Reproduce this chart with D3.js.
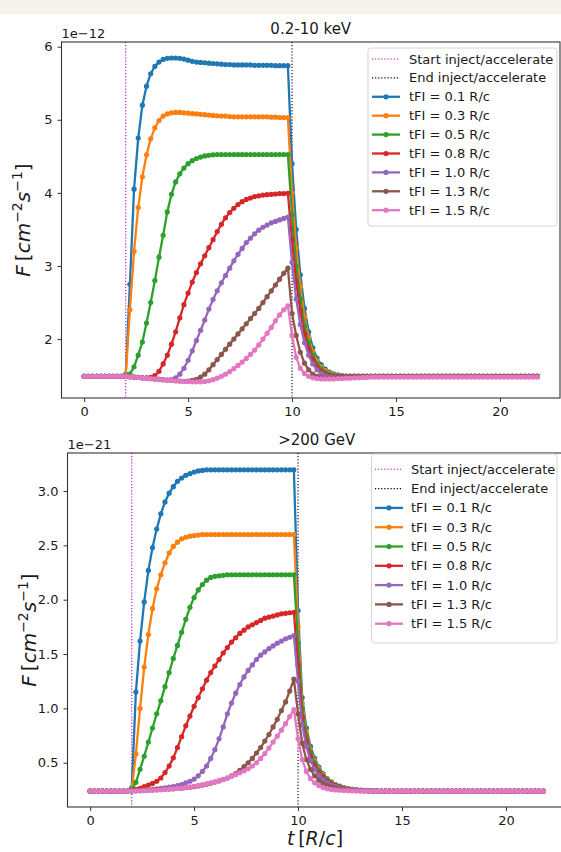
<!DOCTYPE html>
<html><head><meta charset="utf-8">
<script src="https://cdn.jsdelivr.net/npm/d3@7"></script>
<style>
html,body{margin:0;padding:0;background:#fff;}
svg{display:block;font-family:"DejaVu Sans",sans-serif;}
</style></head>
<body><svg id="c" width="561" height="852"></svg>
<script>
// ---------- DATA ----------
const times = [0,0.2,0.4,0.6,0.8,1,1.2,1.4,1.6,1.8,
2,2.2,2.4,2.6,2.8,3,3.2,3.4,3.6,3.8,
4,4.2,4.4,4.6,4.8,5,5.2,5.4,5.6,5.8,
6,6.2,6.4,6.6,6.8,7,7.2,7.4,7.6,7.8,
8,8.2,8.4,8.6,8.8,9,9.2,9.4,9.6,9.8,
10,10.2,10.4,10.6,10.8,11,11.2,11.4,11.6,11.8,
12,12.2,12.4,12.6,12.8,13,13.2,13.4,13.6,13.8,
14,14.2,14.4,14.6,14.8,15,15.2,15.4,15.6,15.8,
16,16.2,16.4,16.6,16.8,17,17.2,17.4,17.6,17.8,
18,18.2,18.4,18.6,18.8,19,19.2,19.4,19.6,19.8,
20,20.2,20.4,20.6,20.8,21,21.2,21.4,21.6,21.8];

const seriesNames = ["tFI = 0.1 R/c","tFI = 0.3 R/c","tFI = 0.5 R/c","tFI = 0.8 R/c","tFI = 1.0 R/c","tFI = 1.3 R/c","tFI = 1.5 R/c"];
const seriesColors = ["#1f77b4","#ff7f0e","#2ca02c","#d62728","#9467bd","#8c564b","#e377c2"];
const injectStart = 2;
const injectEnd = 10;

// 0.2-10 keV, units of 1e-12
const keV_01 = [1.49,1.49,1.49,1.49,1.49,1.49,1.49,1.49,1.49,1.49,
1.52,2.75,4.05,4.75,5.20,5.46,5.63,5.73,5.79,5.825,
5.84,5.845,5.845,5.84,5.83,5.815,5.80,5.79,5.785,5.78,
5.775,5.77,5.765,5.76,5.755,5.755,5.75,5.75,5.75,5.75,
5.75,5.745,5.745,5.745,5.745,5.745,5.74,5.74,5.74,5.74,
4.40,3.50,2.88,2.42,2.10,1.88,1.74,1.65,1.59,1.55,
1.525,1.51,1.50,1.495,1.49,1.49,1.49,1.49,1.49,1.49,
1.49,1.49,1.49,1.49,1.49,1.49,1.49,1.49,1.49,1.49,
1.49,1.49,1.49,1.49,1.49,1.49,1.49,1.49,1.49,1.49,
1.49,1.49,1.49,1.49,1.49,1.49,1.49,1.49,1.49,1.49,
1.49,1.49,1.49,1.49,1.49,1.49,1.49,1.49,1.49,1.49];
const keV_03 = [1.49,1.49,1.49,1.49,1.49,1.49,1.49,1.49,1.49,1.49,
1.50,2.40,3.20,3.80,4.22,4.52,4.74,4.89,4.99,5.05,
5.08,5.095,5.10,5.10,5.095,5.09,5.085,5.08,5.075,5.07,
5.065,5.06,5.055,5.05,5.05,5.045,5.04,5.04,5.04,5.04,
5.04,5.04,5.04,5.04,5.04,5.035,5.035,5.03,5.03,5.03,
4.00,3.25,2.72,2.30,2.02,1.83,1.70,1.62,1.57,1.535,
1.515,1.50,1.495,1.49,1.49,1.49,1.49,1.49,1.49,1.49,
1.49,1.49,1.49,1.49,1.49,1.49,1.49,1.49,1.49,1.49,
1.49,1.49,1.49,1.49,1.49,1.49,1.49,1.49,1.49,1.49,
1.49,1.49,1.49,1.49,1.49,1.49,1.49,1.49,1.49,1.49,
1.49,1.49,1.49,1.49,1.49,1.49,1.49,1.49,1.49,1.49];
const keV_05 = [1.49,1.49,1.49,1.49,1.49,1.49,1.49,1.49,1.49,1.49,
1.49,1.52,1.62,1.78,1.96,2.22,2.50,2.80,3.12,3.42,
3.74,3.98,4.15,4.26,4.34,4.40,4.44,4.47,4.49,4.505,
4.515,4.52,4.525,4.525,4.525,4.525,4.525,4.525,4.525,4.525,
4.525,4.525,4.525,4.525,4.525,4.525,4.525,4.525,4.525,4.525,
3.70,3.00,2.55,2.18,1.95,1.78,1.66,1.59,1.545,1.52,
1.505,1.495,1.49,1.49,1.49,1.49,1.49,1.49,1.49,1.49,
1.49,1.49,1.49,1.49,1.49,1.49,1.49,1.49,1.49,1.49,
1.49,1.49,1.49,1.49,1.49,1.49,1.49,1.49,1.49,1.49,
1.49,1.49,1.49,1.49,1.49,1.49,1.49,1.49,1.49,1.49,
1.49,1.49,1.49,1.49,1.49,1.49,1.49,1.49,1.49,1.49];
const keV_08 = [1.49,1.49,1.49,1.49,1.49,1.49,1.49,1.49,1.49,1.49,
1.49,1.485,1.48,1.475,1.47,1.47,1.475,1.50,1.56,1.66,
1.78,1.93,2.10,2.29,2.47,2.63,2.78,2.91,3.03,3.14,
3.25,3.36,3.47,3.57,3.66,3.73,3.79,3.84,3.88,3.91,
3.93,3.95,3.96,3.97,3.975,3.98,3.985,3.99,3.99,3.995,
3.35,2.78,2.38,2.07,1.86,1.72,1.62,1.56,1.52,1.50,
1.49,1.49,1.49,1.49,1.49,1.49,1.49,1.49,1.49,1.49,
1.49,1.49,1.49,1.49,1.49,1.49,1.49,1.49,1.49,1.49,
1.49,1.49,1.49,1.49,1.49,1.49,1.49,1.49,1.49,1.49,
1.49,1.49,1.49,1.49,1.49,1.49,1.49,1.49,1.49,1.49,
1.49,1.49,1.49,1.49,1.49,1.49,1.49,1.49,1.49,1.49];
const keV_10 = [1.49,1.49,1.49,1.49,1.49,1.49,1.49,1.49,1.49,1.49,
1.49,1.485,1.48,1.475,1.47,1.465,1.46,1.455,1.45,1.445,
1.44,1.445,1.47,1.52,1.60,1.71,1.84,1.98,2.12,2.26,
2.41,2.54,2.66,2.77,2.87,2.97,3.07,3.16,3.24,3.32,
3.38,3.44,3.49,3.53,3.56,3.59,3.61,3.63,3.65,3.67,
3.05,2.55,2.20,1.95,1.78,1.66,1.58,1.53,1.50,1.485,
1.48,1.48,1.485,1.49,1.49,1.49,1.49,1.49,1.49,1.49,
1.49,1.49,1.49,1.49,1.49,1.49,1.49,1.49,1.49,1.49,
1.49,1.49,1.49,1.49,1.49,1.49,1.49,1.49,1.49,1.49,
1.49,1.49,1.49,1.49,1.49,1.49,1.49,1.49,1.49,1.49,
1.49,1.49,1.49,1.49,1.49,1.49,1.49,1.49,1.49,1.49];
const keV_13 = [1.49,1.49,1.49,1.49,1.49,1.49,1.49,1.49,1.49,1.49,
1.49,1.485,1.48,1.475,1.47,1.465,1.46,1.455,1.45,1.445,
1.44,1.435,1.43,1.425,1.42,1.425,1.435,1.45,1.48,1.52,
1.58,1.65,1.72,1.79,1.86,1.93,2.00,2.07,2.14,2.21,
2.28,2.35,2.42,2.50,2.58,2.66,2.74,2.82,2.90,2.97,
2.35,2.05,1.82,1.67,1.58,1.52,1.49,1.47,1.465,1.465,
1.47,1.475,1.48,1.485,1.49,1.49,1.49,1.49,1.49,1.49,
1.49,1.49,1.49,1.49,1.49,1.49,1.49,1.49,1.49,1.49,
1.49,1.49,1.49,1.49,1.49,1.49,1.49,1.49,1.49,1.49,
1.49,1.49,1.49,1.49,1.49,1.49,1.49,1.49,1.49,1.49,
1.49,1.49,1.49,1.49,1.49,1.49,1.49,1.49,1.49,1.49];
const keV_15 = [1.49,1.49,1.49,1.49,1.49,1.49,1.49,1.49,1.49,1.49,
1.49,1.485,1.48,1.475,1.47,1.465,1.46,1.455,1.45,1.445,
1.44,1.435,1.43,1.425,1.42,1.42,1.415,1.415,1.415,1.42,
1.43,1.445,1.465,1.49,1.52,1.555,1.595,1.64,1.685,1.735,
1.79,1.85,1.92,2.00,2.08,2.16,2.25,2.33,2.40,2.455,
2.05,1.75,1.60,1.53,1.49,1.47,1.46,1.455,1.455,1.455,
1.455,1.46,1.46,1.465,1.465,1.47,1.47,1.475,1.475,1.48,
1.48,1.48,1.48,1.48,1.48,1.48,1.48,1.48,1.48,1.48,
1.48,1.48,1.48,1.48,1.48,1.48,1.48,1.48,1.48,1.48,
1.48,1.48,1.48,1.48,1.48,1.48,1.48,1.48,1.48,1.48,
1.48,1.48,1.48,1.48,1.48,1.48,1.48,1.48,1.48,1.48];

// >200 GeV, units of 1e-21
const GeV_01 = [0.24,0.24,0.24,0.24,0.24,0.24,0.24,0.24,0.24,0.24,
0.27,1.15,1.62,1.98,2.27,2.48,2.65,2.79,2.90,2.98,
3.04,3.09,3.12,3.145,3.16,3.175,3.185,3.19,3.195,3.195,
3.195,3.195,3.195,3.195,3.195,3.195,3.195,3.195,3.195,3.195,
3.195,3.195,3.195,3.195,3.195,3.195,3.195,3.195,3.195,3.195,
1.90,1.10,0.82,0.65,0.54,0.46,0.40,0.355,0.325,0.30,
0.285,0.272,0.263,0.256,0.25,0.247,0.245,0.243,0.242,0.241,
0.24,0.24,0.24,0.24,0.24,0.24,0.24,0.24,0.24,0.24,
0.24,0.24,0.24,0.24,0.24,0.24,0.24,0.24,0.24,0.24,
0.24,0.24,0.24,0.24,0.24,0.24,0.24,0.24,0.24,0.24,
0.24,0.24,0.24,0.24,0.24,0.24,0.24,0.24,0.24,0.24];
const GeV_03 = [0.24,0.24,0.24,0.24,0.24,0.24,0.24,0.24,0.24,0.24,
0.25,0.58,1.00,1.38,1.68,1.92,2.10,2.23,2.34,2.43,
2.49,2.53,2.56,2.575,2.585,2.59,2.595,2.60,2.60,2.60,
2.60,2.60,2.60,2.60,2.60,2.60,2.60,2.60,2.60,2.60,
2.60,2.60,2.60,2.60,2.60,2.60,2.60,2.60,2.60,2.60,
1.75,1.05,0.78,0.62,0.52,0.445,0.39,0.35,0.32,0.298,
0.282,0.27,0.262,0.255,0.25,0.247,0.245,0.243,0.242,0.241,
0.24,0.24,0.24,0.24,0.24,0.24,0.24,0.24,0.24,0.24,
0.24,0.24,0.24,0.24,0.24,0.24,0.24,0.24,0.24,0.24,
0.24,0.24,0.24,0.24,0.24,0.24,0.24,0.24,0.24,0.24,
0.24,0.24,0.24,0.24,0.24,0.24,0.24,0.24,0.24,0.24];
const GeV_05 = [0.24,0.24,0.24,0.24,0.24,0.24,0.24,0.24,0.24,0.24,
0.25,0.32,0.44,0.56,0.69,0.82,0.95,1.07,1.20,1.33,
1.46,1.58,1.70,1.82,1.93,2.02,2.09,2.14,2.18,2.205,
2.215,2.22,2.225,2.23,2.23,2.23,2.23,2.23,2.23,2.23,
2.23,2.23,2.23,2.23,2.23,2.23,2.23,2.23,2.23,2.23,
1.60,1.00,0.75,0.60,0.50,0.43,0.38,0.345,0.315,0.295,
0.28,0.268,0.26,0.254,0.25,0.247,0.245,0.243,0.242,0.241,
0.24,0.24,0.24,0.24,0.24,0.24,0.24,0.24,0.24,0.24,
0.24,0.24,0.24,0.24,0.24,0.24,0.24,0.24,0.24,0.24,
0.24,0.24,0.24,0.24,0.24,0.24,0.24,0.24,0.24,0.24,
0.24,0.24,0.24,0.24,0.24,0.24,0.24,0.24,0.24,0.24];
const GeV_08 = [0.24,0.24,0.24,0.24,0.24,0.24,0.24,0.24,0.24,0.24,
0.245,0.255,0.265,0.28,0.295,0.31,0.33,0.36,0.41,0.47,
0.545,0.64,0.74,0.84,0.93,1.02,1.10,1.18,1.26,1.33,
1.39,1.45,1.51,1.56,1.61,1.65,1.69,1.72,1.75,1.77,
1.79,1.81,1.83,1.84,1.85,1.86,1.87,1.875,1.88,1.885,
1.40,0.92,0.70,0.56,0.47,0.41,0.365,0.33,0.305,0.287,
0.274,0.264,0.257,0.252,0.248,0.246,0.244,0.242,0.241,0.24,
0.24,0.24,0.24,0.24,0.24,0.24,0.24,0.24,0.24,0.24,
0.24,0.24,0.24,0.24,0.24,0.24,0.24,0.24,0.24,0.24,
0.24,0.24,0.24,0.24,0.24,0.24,0.24,0.24,0.24,0.24,
0.24,0.24,0.24,0.24,0.24,0.24,0.24,0.24,0.24,0.24];
const GeV_10 = [0.24,0.24,0.24,0.24,0.24,0.24,0.24,0.24,0.24,0.24,
0.24,0.245,0.245,0.25,0.25,0.255,0.26,0.265,0.27,0.275,
0.28,0.29,0.30,0.315,0.33,0.35,0.38,0.42,0.47,0.54,
0.62,0.72,0.83,0.95,1.05,1.14,1.22,1.29,1.35,1.40,
1.45,1.49,1.52,1.55,1.575,1.60,1.62,1.64,1.655,1.67,
1.25,0.85,0.65,0.52,0.44,0.385,0.345,0.315,0.295,0.28,
0.27,0.262,0.256,0.252,0.248,0.246,0.244,0.242,0.241,0.24,
0.24,0.24,0.24,0.24,0.24,0.24,0.24,0.24,0.24,0.24,
0.24,0.24,0.24,0.24,0.24,0.24,0.24,0.24,0.24,0.24,
0.24,0.24,0.24,0.24,0.24,0.24,0.24,0.24,0.24,0.24,
0.24,0.24,0.24,0.24,0.24,0.24,0.24,0.24,0.24,0.24];
const GeV_13 = [0.24,0.24,0.24,0.24,0.24,0.24,0.24,0.24,0.24,0.24,
0.24,0.242,0.244,0.246,0.248,0.25,0.252,0.254,0.256,0.258,
0.26,0.263,0.266,0.27,0.274,0.28,0.287,0.295,0.303,0.312,
0.322,0.333,0.345,0.36,0.38,0.40,0.43,0.465,0.50,0.54,
0.59,0.64,0.70,0.76,0.83,0.90,0.98,1.06,1.16,1.27,
0.95,0.68,0.53,0.44,0.38,0.34,0.31,0.29,0.275,0.265,
0.258,0.253,0.249,0.246,0.244,0.242,0.241,0.24,0.24,0.24,
0.24,0.24,0.24,0.24,0.24,0.24,0.24,0.24,0.24,0.24,
0.24,0.24,0.24,0.24,0.24,0.24,0.24,0.24,0.24,0.24,
0.24,0.24,0.24,0.24,0.24,0.24,0.24,0.24,0.24,0.24,
0.24,0.24,0.24,0.24,0.24,0.24,0.24,0.24,0.24,0.24];
const GeV_15 = [0.24,0.24,0.24,0.24,0.24,0.24,0.24,0.24,0.24,0.24,
0.24,0.241,0.242,0.243,0.245,0.247,0.249,0.251,0.254,0.257,
0.26,0.264,0.268,0.273,0.278,0.284,0.29,0.297,0.305,0.314,
0.324,0.335,0.347,0.36,0.374,0.39,0.407,0.425,0.445,0.47,
0.50,0.54,0.585,0.635,0.69,0.745,0.80,0.86,0.925,0.99,
0.72,0.53,0.42,0.355,0.315,0.29,0.273,0.262,0.255,0.25,
0.247,0.245,0.243,0.242,0.241,0.24,0.24,0.24,0.24,0.24,
0.24,0.24,0.24,0.24,0.24,0.24,0.24,0.24,0.24,0.24,
0.24,0.24,0.24,0.24,0.24,0.24,0.24,0.24,0.24,0.24,
0.24,0.24,0.24,0.24,0.24,0.24,0.24,0.24,0.24,0.24,
0.24,0.24,0.24,0.24,0.24,0.24,0.24,0.24,0.24,0.24];

const xTicks = [0,5,10,15,20];
const yTicksTop = [2,3,4,5,6];
const yTicksBottom = [0.5,1.0,1.5,2.0,2.5,3.0];
const titles = ["0.2-10 keV", ">200 GeV"];
const offsetTexts = ["1e\u221212", "1e\u221221"];
const legendLineNames = ["Start inject/accelerate", "End inject/accelerate"];

// ---------- LAYOUT ----------
const svg = d3.select("#c");
svg.append("rect").attr("x",0).attr("y",0).attr("width",561).attr("height",14).attr("fill","#f6f3ea");

const panels = [
  {series:[keV_01,keV_03,keV_05,keV_08,keV_10,keV_13,keV_15], yDomain:[1.194,6.064], yTicks:yTicksTop, fmt:d3.format("d"),
   left:61.5, right:560, top:42, bottom:398, title:titles[0], offset:offsetTexts[0], ylabX:30,
   leg:{x:368, y:48, w:189, h:178, rowY:59, rowH:18.9, hx:372, hw:28, tx:409}},
  {series:[GeV_01,GeV_03,GeV_05,GeV_08,GeV_10,GeV_13,GeV_15], yDomain:[0.093,3.35], yTicks:yTicksBottom, fmt:d3.format(".1f"),
   left:67.5, right:566, top:453, bottom:807, title:titles[1], offset:offsetTexts[1], ylabX:36,
   leg:{x:371.5, y:454, w:185.5, h:189, rowY:469.3, rowH:19.3, hx:375, hw:28, tx:411}}
];

const textColor = "#1a1a1a";
const spineColor = "#333";
const lineW = 2.3;
const dotR = 2.6;

panels.forEach((p, pi) => {
  const x = d3.scaleLinear().domain([-1.09, 22.89]).range([p.left, p.right]);
  const y = d3.scaleLinear().domain(p.yDomain).range([p.bottom, p.top]);
  const g = svg.append("g");
  const clipId = "clip" + pi;
  svg.append("clipPath").attr("id", clipId).append("rect")
    .attr("x", p.left).attr("y", p.top).attr("width", p.right - p.left).attr("height", p.bottom - p.top);

  const plot = g.append("g").attr("clip-path", `url(#${clipId})`);
  plot.append("line").attr("x1", x(injectStart)).attr("x2", x(injectStart)).attr("y1", p.top).attr("y2", p.bottom)
    .attr("stroke", "#bf00bf").attr("stroke-width", 1.1).attr("stroke-dasharray", "1.2,1.9");
  plot.append("line").attr("x1", x(injectEnd)).attr("x2", x(injectEnd)).attr("y1", p.top).attr("y2", p.bottom)
    .attr("stroke", "#000").attr("stroke-width", 1.1).attr("stroke-dasharray", "1.2,1.9");

  const line = d3.line().x((d, i) => x(times[i])).y(d => y(d));
  p.series.forEach((s, si) => {
    const col = seriesColors[si];
    plot.append("path").datum(s).attr("d", line).attr("fill", "none")
      .attr("stroke", col).attr("stroke-width", lineW).attr("stroke-linejoin", "round");
    plot.append("g").selectAll("circle").data(s).join("circle")
      .attr("cx", (d, i) => x(times[i])).attr("cy", d => y(d)).attr("r", dotR).attr("fill", col);
  });

  const xAxis = d3.axisBottom(x).tickValues(xTicks).tickSize(4).tickPadding(5).tickSizeOuter(0);
  const yAxis = d3.axisLeft(y).tickValues(p.yTicks).tickFormat(p.fmt).tickSize(4).tickPadding(5).tickSizeOuter(0);
  const gx = g.append("g").attr("transform", `translate(0,${p.bottom})`).call(xAxis);
  const gy = g.append("g").attr("transform", `translate(${p.left},0)`).call(yAxis);
  [gx, gy].forEach(a => {
    a.select(".domain").remove();
    a.selectAll(".tick line").attr("stroke", spineColor).attr("stroke-width", 1);
    a.selectAll(".tick text").attr("fill", textColor).style("font-size", "13px").style("font-family", "DejaVu Sans");
  });
  g.append("rect").attr("x", p.left).attr("y", p.top).attr("width", p.right - p.left).attr("height", p.bottom - p.top)
    .attr("fill", "none").attr("stroke", spineColor).attr("stroke-width", 1.1);

  g.append("text").attr("x", (p.left + p.right) / 2).attr("y", p.top - 8).attr("text-anchor", "middle")
    .attr("fill", textColor).style("font-size", "15px").text(p.title);
  g.append("text").attr("x", p.left).attr("y", p.top - 4)
    .attr("fill", textColor).style("font-size", "13px").text(p.offset);

  const yl = g.append("text").attr("transform", `translate(${p.ylabX},${(p.top + p.bottom) / 2}) rotate(-90)`)
    .attr("text-anchor", "middle").attr("fill", textColor).style("font-size", "20px");
  yl.append("tspan").style("font-style", "italic").text("F");
  yl.append("tspan").text("\u2009[");
  yl.append("tspan").style("font-style", "italic").text("cm");
  yl.append("tspan").attr("dy", -8).style("font-size", "14px").text("\u22122");
  yl.append("tspan").attr("dy", 8).style("font-style", "italic").text("s");
  yl.append("tspan").attr("dy", -8).style("font-size", "14px").text("\u22121");
  yl.append("tspan").attr("dy", 8).text("]");

  const L = p.leg;
  const lg = g.append("g");
  lg.append("rect").attr("x", L.x).attr("y", L.y).attr("width", L.w).attr("height", L.h).attr("rx", 3)
    .attr("fill", "#fff").attr("fill-opacity", 0.8).attr("stroke", "#d4d4d4").attr("stroke-width", 1);
  const legItems = [
    {name: legendLineNames[0], color: "#bf00bf", dotted: true},
    {name: legendLineNames[1], color: "#000", dotted: true}
  ].concat(seriesNames.map((n, i) => ({name: n, color: seriesColors[i], dotted: false})));
  legItems.forEach((it, k) => {
    const yy = L.rowY + k * L.rowH;
    if (it.dotted) {
      lg.append("line").attr("x1", L.hx).attr("x2", L.hx + L.hw).attr("y1", yy).attr("y2", yy)
        .attr("stroke", it.color).attr("stroke-width", 1.1).attr("stroke-dasharray", "1.2,1.9");
    } else {
      lg.append("line").attr("x1", L.hx).attr("x2", L.hx + L.hw).attr("y1", yy).attr("y2", yy)
        .attr("stroke", it.color).attr("stroke-width", lineW);
      lg.append("circle").attr("cx", L.hx + L.hw / 2).attr("cy", yy).attr("r", dotR).attr("fill", it.color);
    }
    lg.append("text").attr("x", L.tx).attr("y", yy).attr("dy", "0.35em").attr("fill", textColor)
      .style("font-size", "13px").text(it.name);
  });
});

const xl = svg.append("text").attr("x", 315).attr("y", 845).attr("text-anchor", "middle")
  .attr("fill", textColor).style("font-size", "19px");
xl.append("tspan").style("font-style", "italic").text("t");
xl.append("tspan").text("\u2009[");
xl.append("tspan").style("font-style", "italic").text("R");
xl.append("tspan").text("/");
xl.append("tspan").style("font-style", "italic").text("c");
xl.append("tspan").text("]");
</script></body></html>
